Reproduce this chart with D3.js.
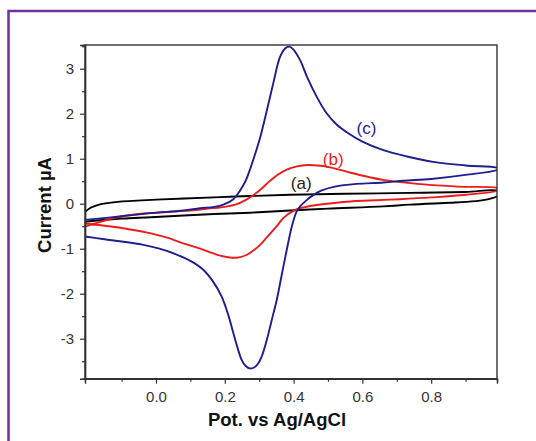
<!DOCTYPE html>
<html>
<head>
<meta charset="utf-8">
<script src="https://cdn.jsdelivr.net/npm/d3@7"></script>
<style>
  body { margin: 0; background: #fff; }
  svg { display: block; }
</style>
</head>
<body>
<svg id="chart" width="536" height="441"></svg>
<script>
// tick values
const xTicks = [0.0, 0.2, 0.4, 0.6, 0.8];
const xMinor = [-0.1, 0.1, 0.3, 0.5, 0.7, 0.9];
const yTicks = [-3, -2, -1, 0, 1, 2, 3];
const yMinor = [-3.5, -2.5, -1.5, -0.5, 0.5, 1.5, 2.5, 3.5];

// (a) background scan: [potential, current]
const curveA = [
	[-0.206,-0.40],[-0.1,-0.33],[-0.015,-0.30],[0.169,-0.23],[0.273,-0.20],[0.39,-0.15],
	[0.5,-0.11],[0.661,-0.06],[0.738,-0.02],[0.855,0.02],[0.903,0.04],[0.951,0.08],[0.975,0.12],[0.995,0.18],
	[0.995,0.28],[0.9,0.26],[0.738,0.24],[0.55,0.22],[0.39,0.20],[0.273,0.17],[0.169,0.14],
	[0.0,0.09],[-0.112,0.04],[-0.17,-0.03],[-0.19,-0.09],[-0.206,-0.18]
];

// (b)
const curveB = [
	[-0.206,-0.51],[-0.16,-0.40],[-0.112,-0.30],[-0.05,-0.23],[0.0,-0.20],[0.08,-0.16],[0.15,-0.11],
	[0.2,-0.07],[0.235,-0.01],[0.26,0.08],[0.283,0.19],[0.305,0.32],[0.33,0.50],[0.355,0.65],[0.38,0.76],
	[0.41,0.83],[0.44,0.86],[0.47,0.85],[0.50,0.82],[0.56,0.70],[0.62,0.59],[0.66,0.53],[0.76,0.44],
	[0.88,0.38],[0.995,0.34],
	[0.995,0.30],[0.9,0.20],[0.8,0.14],[0.709,0.10],[0.62,0.07],[0.564,0.05],[0.467,-0.03],[0.419,-0.10],
	[0.399,-0.16],[0.37,-0.32],[0.351,-0.50],[0.322,-0.75],[0.302,-0.92],[0.283,-1.04],[0.263,-1.14],
	[0.235,-1.20],[0.21,-1.19],[0.176,-1.13],[0.128,-1.0],[0.079,-0.88],[0.03,-0.75],[-0.015,-0.66],
	[-0.1,-0.54],[-0.206,-0.44]
];

// (c)
const curveC = [
	[-0.206,-0.36],[-0.1,-0.28],[-0.015,-0.21],[0.08,-0.15],[0.128,-0.10],[0.169,-0.07],[0.196,-0.02],
	[0.225,0.10],[0.245,0.30],[0.26,0.50],[0.275,0.80],[0.29,1.15],[0.302,1.45],[0.32,2.0],[0.341,2.68],
	[0.36,3.25],[0.375,3.45],[0.388,3.49],[0.40,3.42],[0.419,3.19],[0.44,2.8],[0.467,2.38],[0.495,2.02],
	[0.525,1.76],[0.56,1.56],[0.60,1.38],[0.661,1.19],[0.73,1.05],[0.806,0.93],[0.9,0.85],[0.995,0.79],
	[0.995,0.76],[0.9,0.64],[0.8,0.55],[0.72,0.51],[0.661,0.47],[0.583,0.44],[0.52,0.38],[0.48,0.29],
	[0.457,0.19],[0.438,0.08],[0.42,-0.05],[0.409,-0.17],[0.395,-0.5],[0.38,-1.03],[0.365,-1.6],
	[0.351,-2.14],[0.336,-2.6],[0.322,-3.03],[0.308,-3.38],[0.297,-3.55],[0.285,-3.64],[0.273,-3.66],
	[0.26,-3.6],[0.249,-3.47],[0.237,-3.2],[0.225,-2.88],[0.21,-2.47],[0.19,-2.05],[0.165,-1.72],
	[0.135,-1.45],[0.10,-1.27],[0.06,-1.13],[0.01,-1.0],[-0.04,-0.91],[-0.1,-0.84],
	[-0.15,-0.79],[-0.206,-0.73]
];

const curves = [
	{ name: '(a)', data: curveA, color: '#000000', label: [0.422, 0.33] },
	{ name: '(b)', data: curveB, color: '#ee1b1b', label: [0.515, 0.86] },
	{ name: '(c)', data: curveC, color: '#1e1e8c', label: [0.612, 1.56] }
];

const svg = d3.select('#chart');
const pLeft = 85, pRight = 497, pTop = 45, pBottom = 378.7;
const font = 'Arial, "Liberation Sans", sans-serif';

const x = d3.scaleLinear().domain([-0.2064, 0.9913]).range([pLeft, pRight]);
const y = d3.scaleLinear().domain([-3.889, 3.527]).range([pBottom, pTop]);

// purple frame
svg.append('rect')
	.attr('x', 8.5).attr('y', 11).attr('width', 600).attr('height', 600)
	.attr('fill', 'none').attr('stroke', '#7030a0').attr('stroke-width', 2.5);

svg.append('clipPath').attr('id', 'clip')
	.append('rect').attr('x', pLeft).attr('y', pTop).attr('width', pRight - pLeft).attr('height', pBottom - pTop);

const line = d3.line()
	.x(d => x(d[0]))
	.y(d => y(d[1]))
	.curve(d3.curveCatmullRom.alpha(0.5));

const plot = svg.append('g').attr('clip-path', 'url(#clip)');
for (let c of curves) {
	plot.append('path')
		.attr('d', line(c.data))
		.attr('fill', 'none')
		.attr('stroke', c.color)
		.attr('stroke-width', 1.9)
		.attr('stroke-linejoin', 'round');
}

// frame
svg.append('rect')
	.attr('x', pLeft).attr('y', pTop).attr('width', pRight - pLeft).attr('height', pBottom - pTop)
	.attr('fill', 'none').attr('stroke', '#333').attr('stroke-width', 1.4);

// axes
svg.append('g').attr('transform', `translate(0,${pBottom})`)
	.call(d3.axisBottom(x).tickValues(xTicks).tickFormat(d3.format('.1f')).tickSize(5).tickPadding(8));
svg.append('g').attr('transform', `translate(0,${pBottom})`)
	.call(d3.axisBottom(x).tickValues(xMinor).tickFormat('').tickSize(3));
svg.append('g').attr('transform', `translate(${pLeft},0)`)
	.call(d3.axisLeft(y).tickValues(yTicks).tickFormat(d => String(d)).tickSize(5).tickPadding(6));
svg.append('g').attr('transform', `translate(${pLeft},0)`)
	.call(d3.axisLeft(y).tickValues(yMinor).tickFormat('').tickSize(3));
svg.selectAll('.domain').attr('stroke', '#333').attr('stroke-width', 1.4);
svg.selectAll('.tick line').attr('stroke', '#333').attr('stroke-width', 1.2);
svg.selectAll('.tick text')
	.attr('font-family', font).attr('font-size', '15px').attr('fill', '#333');

// curve labels
for (let c of curves) {
	svg.append('text')
		.attr('x', x(c.label[0])).attr('y', y(c.label[1]))
		.attr('text-anchor', 'middle')
		.attr('font-family', font)
		.attr('font-size', '17px')
		.attr('fill', c.name == '(a)' ? '#222' : c.color)
		.text(c.name);
}

// axis titles
svg.append('text')
	.attr('x', 277).attr('y', 426)
	.attr('text-anchor', 'middle')
	.attr('font-family', font)
	.attr('font-size', '18.5px').attr('font-weight', 'bold').attr('fill', '#111')
	.text('Pot. vs Ag/AgCl');
svg.append('text')
	.attr('transform', 'translate(51,205) rotate(-90)')
	.attr('text-anchor', 'middle')
	.attr('font-family', font)
	.attr('font-size', '18.5px').attr('font-weight', 'bold').attr('fill', '#111')
	.text('Current µA');
</script>
</body>
</html>
